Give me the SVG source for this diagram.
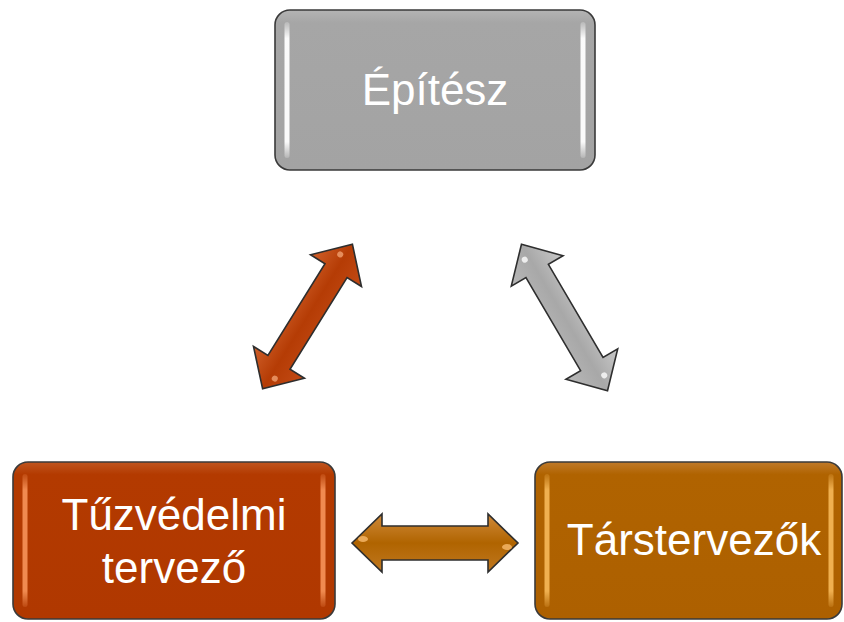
<svg xmlns="http://www.w3.org/2000/svg" width="844" height="622" viewBox="0 0 844 622">
<defs>
<style>
.box{stroke:#3a3a3a;stroke-width:1.6}
.lbl{font-family:"Liberation Sans",Arial,sans-serif;font-size:44px;fill:#ffffff;text-anchor:middle}
.arr{stroke:#2e2e2e;stroke-width:1.6;stroke-linejoin:miter}
</style>
<linearGradient id="gGray" x1="0" y1="0" x2="0" y2="1"><stop offset="0" stop-color="#b4b4b4"/><stop offset="0.08" stop-color="#a6a6a6"/><stop offset="1" stop-color="#a3a3a3"/></linearGradient>
<linearGradient id="gRed" x1="0" y1="0" x2="0" y2="1"><stop offset="0" stop-color="#c0551f"/><stop offset="0.08" stop-color="#b33a00"/><stop offset="1" stop-color="#b03800"/></linearGradient>
<linearGradient id="gOr" x1="0" y1="0" x2="0" y2="1"><stop offset="0" stop-color="#c07a2a"/><stop offset="0.08" stop-color="#b06300"/><stop offset="1" stop-color="#ad6000"/></linearGradient>
<linearGradient id="hlW" x1="0" y1="0" x2="0" y2="1"><stop offset="0" stop-color="#ffffff" stop-opacity="0.2"/><stop offset="0.12" stop-color="#ffffff" stop-opacity="0.95"/><stop offset="0.88" stop-color="#ffffff" stop-opacity="0.95"/><stop offset="1" stop-color="#ffffff" stop-opacity="0.2"/></linearGradient>
<linearGradient id="hlR" x1="0" y1="0" x2="0" y2="1"><stop offset="0" stop-color="#f08a50" stop-opacity="0.2"/><stop offset="0.12" stop-color="#f08a50"/><stop offset="0.88" stop-color="#f08a50"/><stop offset="1" stop-color="#f08a50" stop-opacity="0.2"/></linearGradient>
<linearGradient id="hlO" x1="0" y1="0" x2="0" y2="1"><stop offset="0" stop-color="#f0b050" stop-opacity="0.2"/><stop offset="0.12" stop-color="#f0b050"/><stop offset="0.88" stop-color="#f0b050"/><stop offset="1" stop-color="#f0b050" stop-opacity="0.2"/></linearGradient>
<linearGradient id="aRed" x1="0" y1="-30" x2="0" y2="30" gradientUnits="userSpaceOnUse"><stop offset="0" stop-color="#d0602a"/><stop offset="0.5" stop-color="#b53c05"/><stop offset="1" stop-color="#c24a15"/></linearGradient>
<linearGradient id="aGray" x1="0" y1="-30" x2="0" y2="30" gradientUnits="userSpaceOnUse"><stop offset="0" stop-color="#c8c8c8"/><stop offset="0.5" stop-color="#a8a8a8"/><stop offset="1" stop-color="#b8b8b8"/></linearGradient>
<linearGradient id="aOr" x1="0" y1="-29" x2="0" y2="29" gradientUnits="userSpaceOnUse"><stop offset="0" stop-color="#d08a3a"/><stop offset="0.5" stop-color="#b06400"/><stop offset="1" stop-color="#c07820"/></linearGradient>
<polygon id="dArrow" points="-85,0 -54,-30 -54,-13 54,-13 54,-30 85,0 54,30 54,13 -54,13 -54,30"/>
<polygon id="hArrow" points="-83,0 -53,-29 -53,-17 53,-17 53,-29 83,0 53,29 53,17 -53,17 -53,29"/>
</defs>
<rect width="844" height="622" fill="#ffffff"/>

<g id="connectors">
  <g id="arrow-left" transform="translate(307.5,316.5) rotate(-58.1)">
    <use href="#dArrow" class="arr" fill="url(#aRed)"/>
    <circle cx="-70" cy="5" r="3" fill="#f0a070" opacity="0.8"/>
    <circle cx="70" cy="-5" r="3" fill="#f0a070" opacity="0.8"/>
  </g>
  <g id="arrow-right" transform="translate(564.5,317.5) rotate(59.6)">
    <use href="#dArrow" class="arr" fill="url(#aGray)"/>
    <circle cx="-70" cy="5" r="3" fill="#f4f4f4" opacity="0.9"/>
    <circle cx="70" cy="-5" r="3" fill="#f4f4f4" opacity="0.9"/>
  </g>
  <g id="arrow-bottom" transform="translate(435,543)">
    <use href="#hArrow" class="arr" fill="url(#aOr)"/>
    <ellipse cx="-72" cy="-4" rx="5" ry="3" fill="#f0b060" opacity="0.9"/>
    <ellipse cx="72" cy="4" rx="5" ry="3" fill="#f0b060" opacity="0.9"/>
  </g>
</g>

<g id="node-epitesz">
  <rect class="box" x="275" y="10" width="320" height="160" rx="15" fill="url(#gGray)"/>
  <rect x="284.5" y="22" width="5" height="136" rx="2.5" fill="url(#hlW)"/>
  <rect x="580.5" y="22" width="5" height="136" rx="2.5" fill="url(#hlW)"/>
  <text class="lbl" x="435" y="105">Építész</text>
</g>

<g id="node-tuzvedelmi">
  <rect class="box" x="13" y="462" width="322" height="157" rx="15" fill="url(#gRed)"/>
  <rect x="22.5" y="474" width="5" height="133" rx="2.5" fill="url(#hlR)"/>
  <rect x="320.5" y="474" width="5" height="133" rx="2.5" fill="url(#hlR)"/>
  <text class="lbl" x="174" y="530">Tűzvédelmi</text>
  <text class="lbl" x="174" y="583">tervező</text>
</g>

<g id="node-tarstervezok">
  <rect class="box" x="535" y="462" width="307" height="157" rx="15" fill="url(#gOr)"/>
  <rect x="544.5" y="474" width="5" height="133" rx="2.5" fill="url(#hlO)"/>
  <rect x="828.5" y="474" width="5" height="133" rx="2.5" fill="url(#hlO)"/>
  <text class="lbl" x="694" y="555">Társtervezők</text>
</g>
</svg>
